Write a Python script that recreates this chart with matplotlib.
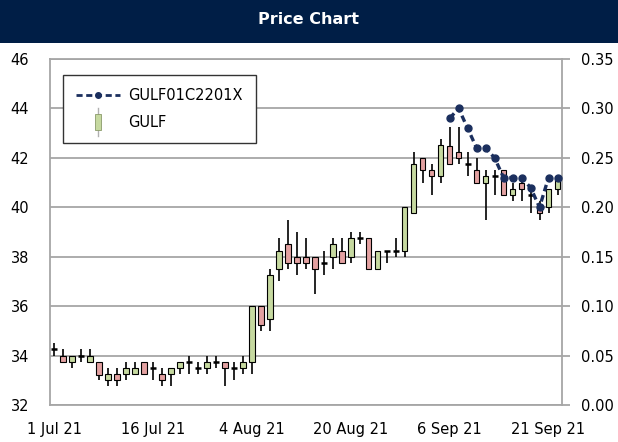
import numpy as np
import pandas as pd
import matplotlib
matplotlib.use("Agg")
import matplotlib.pyplot as plt
from matplotlib.lines import Line2D
from matplotlib.patches import Rectangle
from matplotlib.legend_handler import HandlerBase

# SET trading days, 1 Jul - 22 Sep 2021 (exchange holidays removed)
holidays = ["2021-07-26", "2021-07-28", "2021-08-12"]
days = pd.bdate_range("2021-07-01", "2021-09-22")
days = days[~days.isin(pd.to_datetime(holidays))]

# GULF daily OHLC (THB)
opens = [34.25, 34.0, 33.75, 34.0, 33.75, 33.75, 33.0, 33.25, 33.25, 33.25,
         33.75, 33.5, 33.25, 33.25, 33.5, 33.75, 33.5, 33.5, 33.75, 33.75,
         33.5, 33.5, 33.75, 36.0, 35.5, 37.5, 38.5, 38.0, 38.0, 38.0,
         37.75, 38.0, 38.25, 38.0, 38.75, 38.75, 37.5, 38.25, 38.25, 38.25,
         39.75, 42.0, 41.5, 41.25, 42.5, 42.25, 41.75, 41.5, 41.0, 41.25,
         41.5, 40.5, 41.0, 40.5, 40.0, 40.0, 40.75]
highs = [34.5, 34.25, 34.0, 34.25, 34.25, 33.75, 33.5, 33.5, 33.75, 33.75,
         33.75, 33.75, 33.5, 33.5, 33.75, 34.0, 33.75, 34.0, 34.0, 33.75,
         33.75, 34.0, 36.0, 36.0, 37.5, 38.75, 39.5, 39.0, 38.75, 38.0,
         38.25, 38.75, 38.75, 39.0, 39.0, 38.75, 38.25, 38.25, 38.75, 40.0,
         42.25, 42.0, 41.75, 42.75, 43.25, 43.25, 42.25, 42.0, 41.5, 41.5,
         41.5, 41.0, 41.25, 40.75, 40.25, 40.75, 41.25]
lows = [34.0, 33.75, 33.5, 33.75, 33.75, 33.0, 32.75, 32.75, 33.0, 33.25,
        33.25, 33.0, 32.75, 32.75, 33.25, 33.25, 33.25, 33.25, 33.5, 32.75,
        33.0, 33.25, 33.25, 35.0, 35.0, 37.0, 37.5, 37.25, 37.5, 36.5,
        37.25, 37.5, 37.75, 37.75, 38.5, 37.5, 37.5, 37.75, 38.0, 38.0,
        39.75, 41.0, 40.5, 41.0, 41.75, 41.75, 41.25, 41.0, 39.5, 40.5,
        40.5, 40.25, 40.25, 39.75, 39.5, 39.75, 40.5]
closes = [34.25, 33.75, 34.0, 34.0, 34.0, 33.2, 33.25, 33.0, 33.5, 33.5,
          33.25, 33.5, 33.0, 33.5, 33.75, 33.75, 33.5, 33.75, 33.75, 33.5,
          33.5, 33.75, 36.0, 35.25, 37.25, 38.25, 37.75, 37.75, 37.75, 37.5,
          37.75, 38.5, 37.75, 38.75, 38.75, 37.5, 38.25, 38.25, 38.25, 40.0,
          41.75, 41.5, 41.25, 42.5, 41.75, 42.0, 41.75, 41.0, 41.25, 41.25,
          40.5, 40.75, 40.75, 40.5, 39.75, 40.75, 41.25]

# derivative warrant GULF01C2201X (right axis), listed from 6 Sep
dw_start = "2021-09-06"
dw_values = [0.29, 0.30, 0.28, 0.26, 0.26, 0.25, 0.23, 0.23, 0.23, 0.22,
             0.20, 0.23, 0.23]

tick_dates = ["2021-07-01", "2021-07-16", "2021-08-04", "2021-08-20",
              "2021-09-06", "2021-09-21"]
tick_labels = ["1 Jul 21", "16 Jul 21", "4 Aug 21", "20 Aug 21",
               "6 Sep 21", "21 Sep 21"]

UP = "#c6d9a0"
DOWN = "#e3a1a1"
NAVY = "#001e46"
LINE = "#1b2f5e"
GRID = "#a6a6a6"
FS = 10.5


class HandlerCandle(HandlerBase):
    """legend icon: small green candle with a grey wick"""
    def create_artists(self, legend, orig_handle, xdescent, ydescent,
                       width, height, fontsize, trans):
        cx = width / 2 - xdescent
        cy = height / 2 - ydescent
        wick = Line2D([cx, cx], [cy - 10, cy + 10],
                      color="#b0b0b0", lw=1, transform=trans)
        body = Rectangle((cx - 2, cy - 5.5), 4, 11, facecolor=UP,
                         edgecolor="#8a9a6a", lw=0.6, transform=trans)
        return [wick, body]


fig = plt.figure(figsize=(6.18, 4.42), dpi=100)

# title bar
fig.patches.append(Rectangle((0, 1 - 43 / 442), 1, 43 / 442,
                             transform=fig.transFigure, facecolor=NAVY,
                             edgecolor="none"))
fig.text(0.5, 1 - 20 / 442, "Price Chart", color="white", fontsize=11.5,
         fontweight="bold", ha="center", va="center")

ax = fig.add_axes([50 / 618, 1 - 405 / 442, 512 / 618, 346 / 442])
x = np.arange(len(days))
o = np.array(opens)
h = np.array(highs)
l = np.array(lows)
c = np.array(closes)

# wicks
ax.vlines(x, l, h, color="black", lw=1.2, zorder=2)
# bodies (open == close drawn as a flat tick)
doji = np.isclose(o, c)
body = ~doji
cols = np.where(c >= o, UP, DOWN)
ax.bar(x[body], np.abs(c - o)[body], bottom=np.minimum(o, c)[body],
       width=0.62, color=cols[body], edgecolor="black", lw=0.8, zorder=3)
ax.hlines(o[doji], x[doji] - 0.33, x[doji] + 0.33, color="black", lw=1.8,
          zorder=3)

ax.set_xlim(-0.45, len(days) - 0.5)
ax.set_ylim(32, 46)
ax.set_yticks(np.arange(32, 47, 2))
ax.set_xticks(days.get_indexer(pd.to_datetime(tick_dates)))
ax.set_xticklabels(tick_labels)
ax.grid(axis="y", color=GRID, lw=1.3)
ax.set_axisbelow(True)
ax.tick_params(axis="y", length=0, pad=15, labelsize=FS)
ax.tick_params(axis="x", length=0, pad=12, labelsize=FS)
for s in ax.spines.values():
    s.set_color(GRID)
    s.set_linewidth(1.3)
ax.spines["right"].set_visible(False)

# right axis: warrant price
ax2 = ax.twinx()
dx = np.arange(days.get_loc(pd.Timestamp(dw_start)), len(days))
ax2.plot(dx, dw_values, color=LINE, lw=2.4, linestyle=(0, (2.0, 1.2)),
         marker="o", ms=5, zorder=5)
ax2.set_ylim(0, 0.35)
ax2.set_yticks(np.arange(0, 0.351, 0.05))
ax2.yaxis.set_major_formatter(plt.FormatStrFormatter("%.2f"))
ax2.tick_params(axis="y", direction="out", length=6, width=1.3, color=GRID,
                pad=8, labelsize=FS)
for name, s in ax2.spines.items():
    s.set_visible(name == "right")
    s.set_color(GRID)
    s.set_linewidth(1.3)

line_h = Line2D([0, 0.5, 1], [0, 0, 0], color=LINE, lw=2,
                linestyle=(0, (2.2, 1.3)), marker="o", ms=4, markevery=[1])
handles = [line_h, Rectangle((0, 0), 1, 1)]
leg = ax2.legend(handles, ["GULF01C2201X", "GULF"],
                 handler_map={Rectangle: HandlerCandle()},
                 loc="upper left", bbox_to_anchor=(0.025, 0.955),
                 borderaxespad=0, fancybox=False, framealpha=1,
                 edgecolor="#333333", fontsize=FS, handlelength=3.0,
                 handletextpad=0.6, labelspacing=0.85, borderpad=0.9)
leg.get_frame().set_linewidth(1.0)

fig.savefig("out.png", dpi=100)
